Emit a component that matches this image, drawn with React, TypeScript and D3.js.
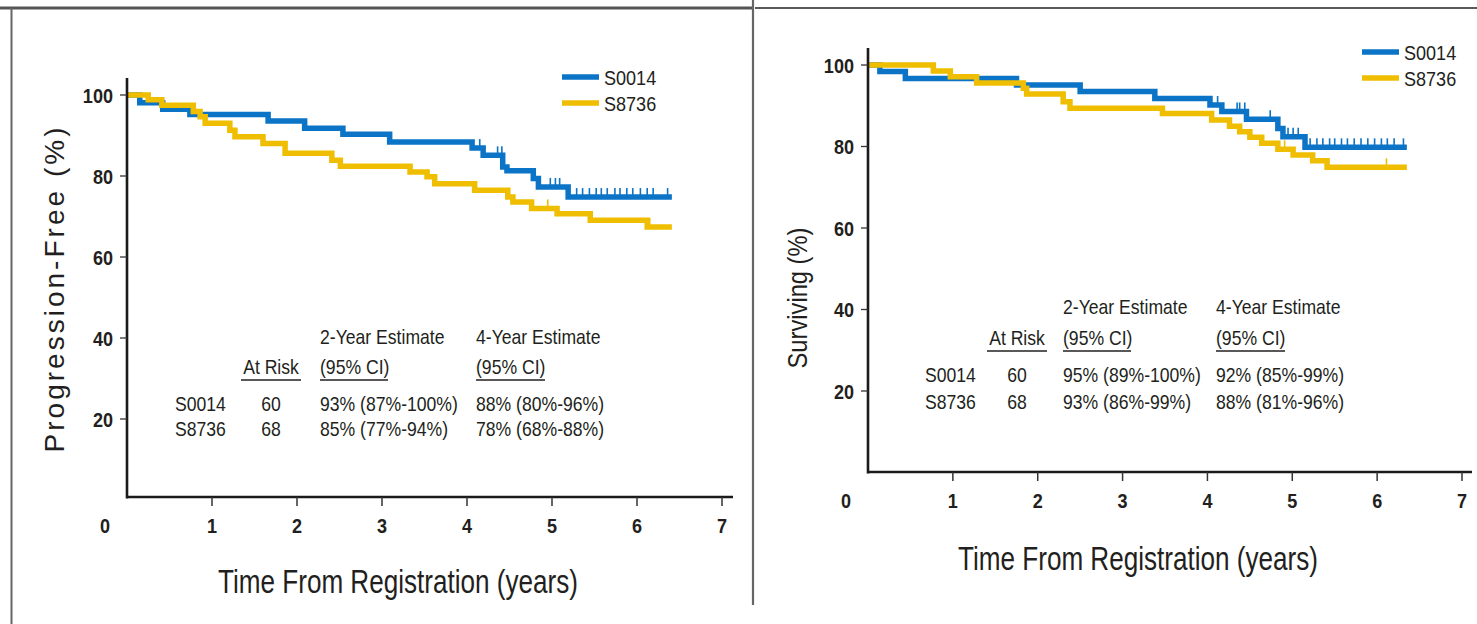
import React from 'react';
import * as d3 from 'd3';

const xTickYears = [1, 2, 3, 4, 5, 6, 7];
const yTickValues = [20, 40, 60, 80, 100];
const seriesNames = ['S0014', 'S8736'];
const seriesColors = ['#0b74c7', '#efbe00'];
const xAxisTitle = 'Time From Registration (years)';

// Progression-free survival (left panel)
const pfsS0014Time = [0, 0.15, 0.42, 0.74, 1.66, 2.09, 2.54, 3.09, 4.06, 4.19, 4.42, 4.47, 4.78, 4.84, 5.19, 6.41];
const pfsS0014Value = [100, 98.1, 96.5, 95.2, 93.6, 91.8, 90.3, 88.4, 86.9, 85.1, 82.2, 81.3, 79.4, 77.3, 74.8, 74.8];
const pfsS0014Censor = [4.15, 4.36, 4.41, 4.78, 4.98, 5.04, 5.09, 5.29, 5.36, 5.44, 5.52, 5.58, 5.65, 5.74, 5.8, 5.88, 5.95, 6.04, 6.12, 6.19, 6.36];
const pfsS8736Time = [0, 0.25, 0.41, 0.78, 0.86, 0.92, 1.21, 1.27, 1.6, 1.86, 2.41, 2.51, 3.33, 3.53, 3.62, 4.09, 4.48, 4.54, 4.76, 5.06, 5.45, 6.12, 6.41];
const pfsS8736Value = [100, 98.8, 97.5, 95.9, 94.6, 93.0, 91.3, 89.7, 88.0, 85.6, 83.9, 82.4, 81.0, 79.8, 78.1, 76.5, 74.8, 73.6, 72.0, 70.7, 69.1, 67.4, 67.4];
const pfsS8736Censor = [4.95, 6.15];

// Overall survival (right panel)
const osS0014Time = [0, 0.14, 0.44, 1.75, 2.5, 3.38, 4.03, 4.17, 4.46, 4.83, 4.89, 5.15, 6.35];
const osS0014Value = [100, 98.4, 96.7, 95.1, 93.5, 91.8, 90.2, 88.6, 86.7, 84.4, 82.4, 79.8, 79.8];
const osS0014Censor = [4.12, 4.35, 4.38, 4.44, 4.74, 4.95, 5.01, 5.07, 5.21, 5.29, 5.36, 5.44, 5.5, 5.58, 5.65, 5.73, 5.81, 5.89, 5.97, 6.05, 6.12, 6.2, 6.31];
const osS8736Time = [0, 0.77, 0.97, 1.28, 1.83, 1.87, 2.3, 2.38, 3.47, 4.05, 4.26, 4.38, 4.5, 4.64, 4.83, 5.01, 5.24, 5.41, 6.35];
const osS8736Value = [100, 98.5, 97.1, 95.6, 94.3, 92.9, 91.0, 89.4, 88.1, 86.5, 85.0, 83.6, 82.3, 80.8, 79.3, 77.9, 76.5, 74.9, 74.9];
const osS8736Censor = [4.91, 6.11];

// Tables
const tableHeader1 = ['2-Year Estimate', '4-Year Estimate'];
const tableHeader2 = ['At Risk', '(95% CI)', '(95% CI)'];
const atRisk = [60, 68];
const pfsTwoYear = ['93% (87%-100%)', '85% (77%-94%)'];
const pfsFourYear = ['88% (80%-96%)', '78% (68%-88%)'];
const osTwoYear = ['95% (89%-100%)', '93% (86%-99%)'];
const osFourYear = ['92% (85%-99%)', '88% (81%-96%)'];

const FONT = "'Liberation Sans', Arial, Helvetica, sans-serif";
const INK = '#231f20';

type Series = { time: number[]; value: number[]; censor: number[] };

function stepValue(s: Series, t: number) {
  let v = s.value[0];
  for (let i = 0; i < s.time.length; i++) if (s.time[i] <= t) v = s.value[i];
  return v;
}

function CText(props: { x: number; y: number; size: number; sx?: number; anchor?: string; weight?: string; children: React.ReactNode }) {
  const sx = props.sx ?? 0.88;
  return (
    <text transform={`translate(${props.x},${props.y}) scale(${sx},1)`} textAnchor={props.anchor ?? 'start'}
      fontFamily={FONT} fontSize={props.size} fontWeight={props.weight ?? 'normal'} fill={INK}>{props.children}</text>
  );
}

type PanelProps = {
  x0: number; x7: number; y0: number; y100: number;
  axisTop: number; axisY: number; axisRight: number;
  series: Series[];
  yTitle: string; yTitleX: number; yTitleY: number; yTitleLen: number; yTitleSize: number; yTitleAdjust: string;
  xTitleX: number; xTitleY: number;
  legendX: number; legendY: number;
  table: { nameX: number; riskX: number; c2X: number; c3X: number; rows: number[]; two: string[]; four: string[] };
};

function Panel(p: PanelProps) {
  const x = d3.scaleLinear().domain([0, 7]).range([p.x0, p.x7]);
  const y = d3.scaleLinear().domain([0, 100]).range([p.y0, p.y100]);
  const line = d3.line<[number, number]>().x(d => x(d[0])).y(d => y(d[1])).curve(d3.curveStepAfter);
  const axisX = x(0);
  const t = p.table;
  const TS = 20;
  return (
    <g>
      {p.series.map((s, i) => (
        <g key={i}>
          <path d={line(s.time.map((tt, k) => [tt, s.value[k]] as [number, number])) || ''}
            fill="none" stroke={seriesColors[i]} strokeWidth={5.5} strokeLinejoin="miter" strokeLinecap="butt" />
          {s.censor.map((c, k) => {
            const cx = x(c);
            const cy = y(stepValue(s, c));
            return <line key={k} x1={cx} x2={cx} y1={cy - 9} y2={cy} stroke={seriesColors[i]} strokeWidth={1.6} />;
          })}
        </g>
      ))}
      {/* axes */}
      <line x1={axisX} x2={axisX} y1={p.axisTop} y2={p.axisY + 1.5} stroke="#1a1a1a" strokeWidth={2.6} />
      <line x1={axisX} x2={p.axisRight} y1={p.axisY} y2={p.axisY} stroke="#1a1a1a" strokeWidth={2.6} />
      {yTickValues.map(v => (
        <g key={v}>
          <line x1={axisX - 7} x2={axisX} y1={y(v)} y2={y(v)} stroke="#333" strokeWidth={1.3} />
          <CText x={axisX - 14} y={y(v) + 7.5} anchor="end" size={21} weight="bold" sx={0.86}>{v}</CText>
        </g>
      ))}
      {xTickYears.map(v => (
        <g key={v}>
          <line x1={x(v)} x2={x(v)} y1={p.axisY} y2={p.axisY + 9} stroke="#333" strokeWidth={1.5} />
          <CText x={x(v)} y={p.axisY + 36} anchor="middle" size={21} weight="bold" sx={0.86}>{v}</CText>
        </g>
      ))}
      <CText x={axisX - 22} y={p.axisY + 36} anchor="middle" size={21} weight="bold" sx={0.86}>0</CText>
      {/* titles */}
      <text x={p.xTitleX} y={p.xTitleY} textAnchor="middle" fontFamily={FONT} fontSize={34} fill={INK}
        textLength={360} lengthAdjust="spacingAndGlyphs">{xAxisTitle}</text>
      <text transform={`translate(${p.yTitleX},${p.yTitleY}) rotate(-90)`} textAnchor="middle" fontFamily={FONT}
        fontSize={p.yTitleSize} fill={INK} textLength={p.yTitleLen} lengthAdjust={p.yTitleAdjust}>{p.yTitle}</text>
      {/* legend */}
      {seriesNames.map((n, i) => (
        <g key={n}>
          <line x1={p.legendX} x2={p.legendX + 37} y1={p.legendY + i * 26} y2={p.legendY + i * 26} stroke={seriesColors[i]} strokeWidth={5.5} />
          <CText x={p.legendX + 42} y={p.legendY + i * 26 + 7.5} size={21} sx={0.86}>{n}</CText>
        </g>
      ))}
      {/* table */}
      <CText x={t.c2X} y={t.rows[0]} size={TS}>{tableHeader1[0]}</CText>
      <CText x={t.c3X} y={t.rows[0]} size={TS}>{tableHeader1[1]}</CText>
      <CText x={t.riskX} y={t.rows[1]} anchor="middle" size={TS}>{tableHeader2[0]}</CText>
      <CText x={t.c2X} y={t.rows[1]} size={TS}>{tableHeader2[1]}</CText>
      <CText x={t.c3X} y={t.rows[1]} size={TS}>{tableHeader2[2]}</CText>
      <line x1={t.riskX - 30} x2={t.riskX + 30} y1={t.rows[1] + 6} y2={t.rows[1] + 6} stroke={INK} strokeWidth={1.6} />
      <line x1={t.c2X} x2={t.c2X + 68} y1={t.rows[1] + 6} y2={t.rows[1] + 6} stroke={INK} strokeWidth={1.6} />
      <line x1={t.c3X} x2={t.c3X + 69} y1={t.rows[1] + 6} y2={t.rows[1] + 6} stroke={INK} strokeWidth={1.6} />
      {seriesNames.map((n, i) => (
        <g key={n}>
          <CText x={t.nameX} y={t.rows[2 + i]} size={TS}>{n}</CText>
          <CText x={t.riskX} y={t.rows[2 + i]} anchor="middle" size={TS}>{atRisk[i]}</CText>
          <CText x={t.c2X} y={t.rows[2 + i]} size={TS}>{t.two[i]}</CText>
          <CText x={t.c3X} y={t.rows[2 + i]} size={TS}>{t.four[i]}</CText>
        </g>
      ))}
    </g>
  );
}

export default function App() {
  const pfs: Series[] = [
    { time: pfsS0014Time, value: pfsS0014Value, censor: pfsS0014Censor },
    { time: pfsS8736Time, value: pfsS8736Value, censor: pfsS8736Censor },
  ];
  const os: Series[] = [
    { time: osS0014Time, value: osS0014Value, censor: osS0014Censor },
    { time: osS8736Time, value: osS8736Value, censor: osS8736Censor },
  ];
  return (
    <svg width={1477} height={624} style={{ position: 'absolute', left: 0, top: 0, background: '#fff' }}>
      <rect x={0} y={0} width={1477} height={624} fill="#fff" />
      {/* frames */}
      <line x1={0} x2={752} y1={8} y2={8} stroke="#555" strokeWidth={3} />
      <line x1={11.5} x2={11.5} y1={8} y2={624} stroke="#666" strokeWidth={2} />
      <line x1={753} x2={753} y1={0} y2={605} stroke="#666" strokeWidth={2.2} />
      <line x1={755} x2={1477} y1={8} y2={8} stroke="#222" strokeWidth={1.6} />
      <Panel x0={127} x7={722} y0={500} y100={95} axisTop={78} axisY={497} axisRight={733}
        series={pfs} yTitle="Progression-Free (%)" yTitleX={64} yTitleY={290} yTitleLen={325} yTitleSize={28} yTitleAdjust="spacing"
        xTitleX={398} xTitleY={593} legendX={562} legendY={77}
        table={{ nameX: 175, riskX: 271, c2X: 320, c3X: 476, rows: [344, 374, 411, 436], two: pfsTwoYear, four: pfsFourYear }} />
      <Panel x0={868} x7={1462} y0={472.5} y100={65} axisTop={48} axisY={472} axisRight={1472}
        series={os} yTitle="Surviving (%)" yTitleX={807} yTitleY={298} yTitleLen={141} yTitleSize={27} yTitleAdjust="spacingAndGlyphs"
        xTitleX={1138} xTitleY={570} legendX={1362} legendY={52}
        table={{ nameX: 925, riskX: 1017, c2X: 1063, c3X: 1216, rows: [314, 345, 382, 409], two: osTwoYear, four: osFourYear }} />
    </svg>
  );
}
